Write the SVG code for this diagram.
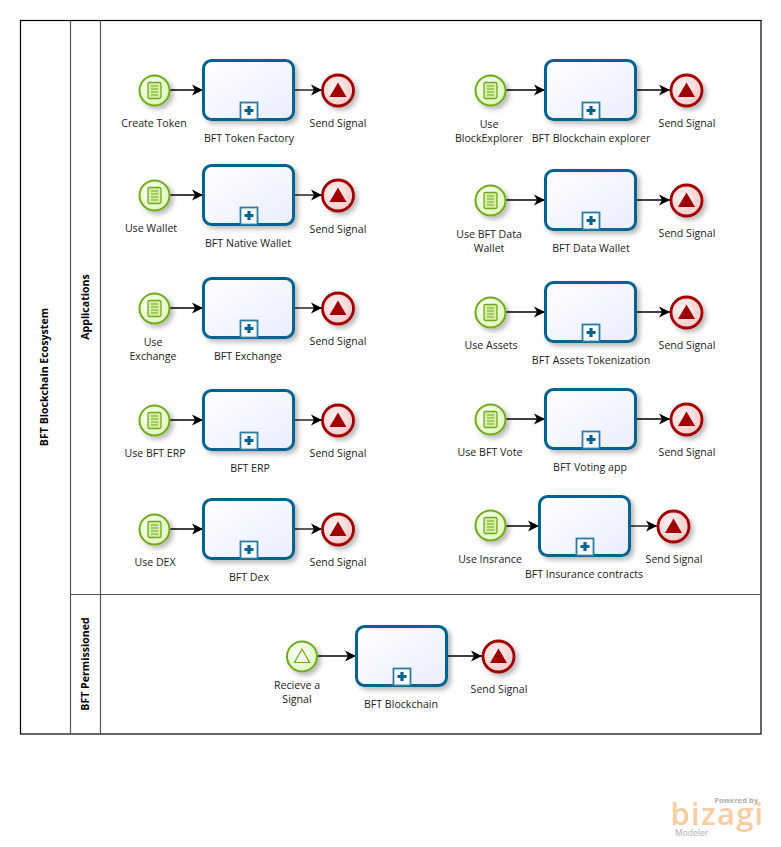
<svg xmlns="http://www.w3.org/2000/svg" xmlns:xlink="http://www.w3.org/1999/xlink" width="781" height="847" viewBox="0 0 781 847">
<style>
text{font-family:"Open Sans","Noto Sans","Liberation Sans",sans-serif;font-size:10.6px;fill:#222;text-anchor:middle}
.b{font-weight:700;fill:#000;font-size:10.6px}
.flow{fill:none;stroke:#000;stroke-width:1.3;marker-end:url(#arrow)}
.pool{fill:none;stroke:#000;stroke-width:1.2}
.lane{fill:none;stroke:#555;stroke-width:1.2}
</style>
<defs>
<filter id="sh" x="-30%" y="-30%" width="170%" height="170%"><feDropShadow dx="3" dy="3" stdDeviation="2.5" flood-color="#000" flood-opacity=".28"/></filter>
<linearGradient id="gt" x1="0" y1="0" x2="1" y2="1"><stop offset="0" stop-color="#fff"/><stop offset="1" stop-color="#e9eeff"/></linearGradient>
<radialGradient id="gs" cx=".4" cy=".4" r=".7"><stop offset="0" stop-color="#fff"/><stop offset="1" stop-color="#dcf5b0"/></radialGradient>
<radialGradient id="ge" cx=".4" cy=".4" r=".7"><stop offset="0" stop-color="#fff4f4"/><stop offset="1" stop-color="#f4c4c4"/></radialGradient>
<marker id="arrow" markerUnits="userSpaceOnUse" markerWidth="12" markerHeight="12" refX="11" refY="6" orient="auto"><path d="M0 .5 L11 6 L0 11.5 L3 6Z" fill="#000"/></marker>
<g id="task"><rect x="0.500" y="0.500" width="90" height="59" rx="8" fill="url(#gt)" stroke="#05648f" stroke-width="3" filter="url(#sh)"/><rect x="37.500" y="42.500" width="17" height="17" fill="#fff" stroke="#2b7ba3" stroke-width="1.800"/><path d="M46 46V55M41.500 50.500H50.500" stroke="#05648f" stroke-width="3.200" fill="none"/></g>
<g id="msg"><circle r="15" fill="url(#gs)" stroke="#6eab1e" stroke-width="2" filter="url(#sh)"/><rect x="-6.500" y="-8" width="13" height="16" rx="1.500" fill="#d6eea6" stroke="#6eab1e" stroke-width="1.300"/><path d="M-3.500-4.500H3.500M-3.500-1.500H3.500M-3.500 1.500H3.500M-3.500 4.500H3.500" stroke="#6eab1e" fill="none"/></g>
<g id="sig"><circle r="15" fill="url(#gs)" stroke="#6eab1e" stroke-width="2" filter="url(#sh)"/><path d="M0-7.500L7.500 6H-7.500Z" fill="none" stroke="#6eab1e" stroke-width="1.200"/></g>
<g id="end"><circle r="15.500" fill="url(#ge)" stroke="#a00000" stroke-width="2.800" filter="url(#sh)"/><path d="M0-8L8.500 6.500H-8.500Z" fill="#a00000"/></g>
</defs>
<g id="pool"><rect class="pool" x="20.500" y="20.500" width="740.500" height="713.500"/><path class="lane" d="M70.500 20.500V734M100.500 20.500V734M70.500 594.500H761"/>
<text class="b" transform="translate(48,377) rotate(-90)">BFT Blockchain Ecosystem</text>
<text class="b" transform="translate(89,307) rotate(-90)">Applications</text>
<text class="b" transform="translate(89,664) rotate(-90)">BFT Permissioned</text></g>
<g id="connectors">
<path class="flow" d="M170 90H203"/><path class="flow" d="M294 90H322"/>
<path class="flow" d="M170 195H203"/><path class="flow" d="M294 195H322"/>
<path class="flow" d="M170 308H203"/><path class="flow" d="M294 308H322"/>
<path class="flow" d="M170 420H203"/><path class="flow" d="M294 420H322"/>
<path class="flow" d="M170 529H203"/><path class="flow" d="M294 529H322"/>
<path class="flow" d="M506 90H545"/><path class="flow" d="M636 90H670"/>
<path class="flow" d="M506 200H545"/><path class="flow" d="M636 200H670"/>
<path class="flow" d="M506 312H545"/><path class="flow" d="M636 312H670"/>
<path class="flow" d="M506 419H545"/><path class="flow" d="M636 419H670"/>
<path class="flow" d="M506 526H539"/><path class="flow" d="M630 526H657"/>
<path class="flow" d="M318 656H356"/><path class="flow" d="M447 656H482"/>
</g>
<g id="s1"><use href="#msg" x="154.500" y="90.500"/><text x="154" y="127">Create Token</text></g>
<g id="t1"><use href="#task" x="203" y="60"/><text x="249" y="142">BFT Token Factory</text></g>
<g id="e1"><use href="#end" x="338" y="90.500"/><text x="338" y="127">Send Signal</text></g>
<g id="s2"><use href="#msg" x="154.500" y="195.500"/><text x="151" y="232">Use Wallet</text></g>
<g id="t2"><use href="#task" x="203" y="165"/><text x="248" y="247">BFT Native Wallet</text></g>
<g id="e2"><use href="#end" x="338" y="195.500"/><text x="338" y="233">Send Signal</text></g>
<g id="s3"><use href="#msg" x="154.500" y="308.500"/><text x="153" y="346">Use</text><text x="153" y="360">Exchange</text></g>
<g id="t3"><use href="#task" x="203" y="278"/><text x="248" y="360">BFT Exchange</text></g>
<g id="e3"><use href="#end" x="338" y="308.500"/><text x="338" y="345">Send Signal</text></g>
<g id="s4"><use href="#msg" x="154.500" y="420.500"/><text x="155" y="457">Use BFT ERP</text></g>
<g id="t4"><use href="#task" x="203" y="390"/><text x="250" y="472">BFT ERP</text></g>
<g id="e4"><use href="#end" x="338" y="420.500"/><text x="338" y="457">Send Signal</text></g>
<g id="s5"><use href="#msg" x="154.500" y="529.500"/><text x="155" y="566">Use DEX</text></g>
<g id="t5"><use href="#task" x="203" y="499"/><text x="249" y="581">BFT Dex</text></g>
<g id="e5"><use href="#end" x="338" y="529.500"/><text x="338" y="566">Send Signal</text></g>
<g id="s6"><use href="#msg" x="490.500" y="90.500"/><text x="489" y="128">Use</text><text x="489" y="142">BlockExplorer</text></g>
<g id="t6"><use href="#task" x="545" y="60"/><text x="591" y="142">BFT Blockchain explorer</text></g>
<g id="e6"><use href="#end" x="686.500" y="90.500"/><text x="687" y="127">Send Signal</text></g>
<g id="s7"><use href="#msg" x="490.500" y="200.500"/><text x="489" y="238">Use BFT Data</text><text x="489" y="252">Wallet</text></g>
<g id="t7"><use href="#task" x="545" y="170"/><text x="591" y="252">BFT Data Wallet</text></g>
<g id="e7"><use href="#end" x="686.500" y="200.500"/><text x="687" y="237">Send Signal</text></g>
<g id="s8"><use href="#msg" x="490.500" y="312.500"/><text x="491" y="349">Use Assets</text></g>
<g id="t8"><use href="#task" x="545" y="282"/><text x="591" y="364">BFT Assets Tokenization</text></g>
<g id="e8"><use href="#end" x="686.500" y="312.500"/><text x="687" y="349">Send Signal</text></g>
<g id="s9"><use href="#msg" x="490.500" y="419.500"/><text x="490" y="456">Use BFT Vote</text></g>
<g id="t9"><use href="#task" x="545" y="389"/><text x="590" y="471">BFT Voting app</text></g>
<g id="e9"><use href="#end" x="686.500" y="419.500"/><text x="687" y="456">Send Signal</text></g>
<g id="s10"><use href="#msg" x="490.500" y="525.500"/><text x="490" y="563">Use Insrance</text></g>
<g id="t10"><use href="#task" x="539" y="496"/><text x="584" y="578">BFT Insurance contracts</text></g>
<g id="e10"><use href="#end" x="673.500" y="526.500"/><text x="674" y="563">Send Signal</text></g>
<g id="s11"><use href="#sig" x="302" y="656.500"/><text x="297" y="689">Recieve a</text><text x="297" y="703">Signal</text></g>
<g id="t11"><use href="#task" x="356" y="626"/><text x="401" y="708">BFT Blockchain</text></g>
<g id="e11"><use href="#end" x="498.500" y="656.500"/><text x="499" y="693">Send Signal</text></g>
<g id="logo"><text x="758" y="803" style="font-size:7.500px;font-weight:700;fill:#b0b0b0;text-anchor:end">Powered by</text>
<text x="717.500" y="825" style="font-size:31px;font-weight:600;fill:#f9cda3;letter-spacing:1.200px">bizagi</text>
<text x="675" y="836" style="font-size:8.500px;fill:#b0b0b0;text-anchor:start">Modeler</text></g>
</svg>
